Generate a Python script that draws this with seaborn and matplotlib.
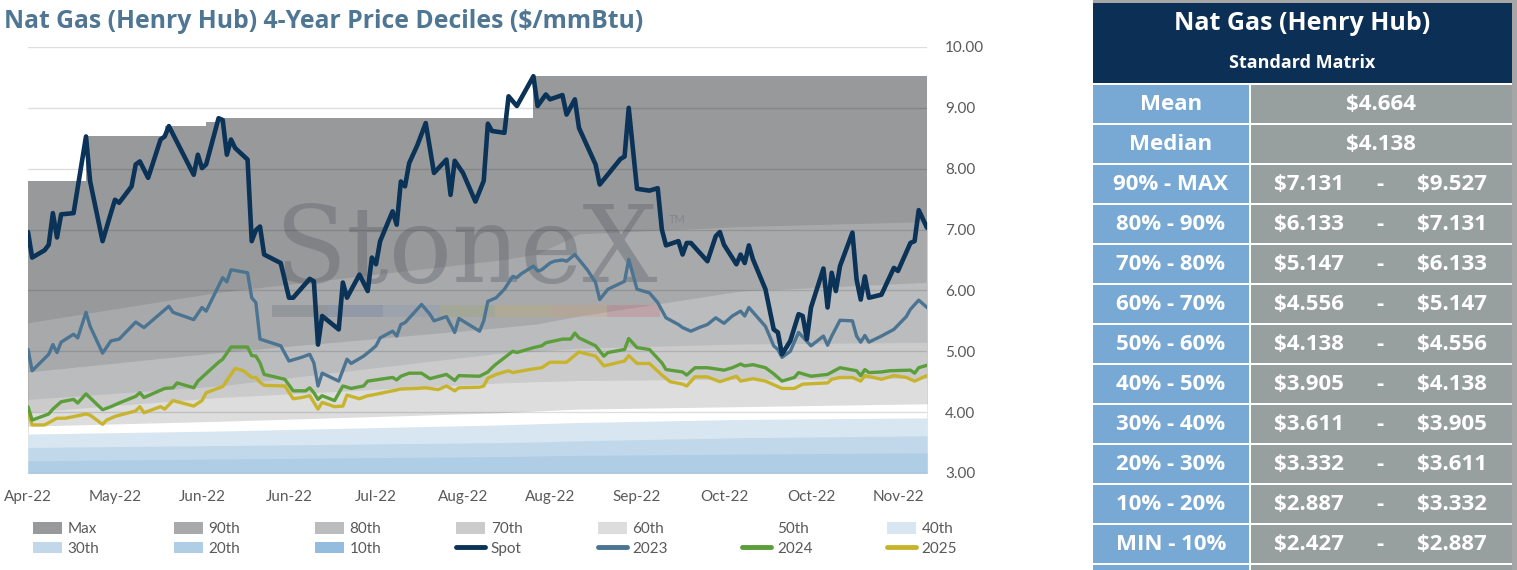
import matplotlib
matplotlib.use("Agg")
import matplotlib.pyplot as plt
from matplotlib.patches import Rectangle, Patch
from matplotlib.lines import Line2D
import seaborn as sns

# ---- x axis: calendar days from the first point, label every 21 days
tick_days = [0, 21, 42, 63, 84, 105, 126, 147, 168, 189, 210]
tick_labels = ["Apr-22", "May-22", "Jun-22", "Jun-22", "Jul-22", "Aug-22",
               "Aug-22", "Sep-22", "Oct-22", "Oct-22", "Nov-22"]
last_day = 217

# ---- decile bands
band_days = [0, 46, 114, 123, 133, 172, 217]
p90 = [5.47, 5.97, 6.50, 6.60, 6.93, 7.05, 7.131]
p80 = [4.66, 4.98, 5.39, 5.45, 5.58, 5.99, 6.133]
p70 = [4.21, 4.43, 4.97, 5.00, 5.05, 5.12, 5.147]
p60 = [4.00, 4.24, 4.48, 4.50, 4.52, 4.54, 4.556]
p50 = [3.77, 3.85, 3.99, 4.02, 4.05, 4.09, 4.138]
p40 = [3.64, 3.69, 3.79, 3.81, 3.83, 3.88, 3.905]
p30 = [3.42, 3.45, 3.50, 3.51, 3.53, 3.58, 3.611]
p20 = [3.20, 3.23, 3.27, 3.28, 3.29, 3.31, 3.332]
p10 = [2.78, 2.80, 2.83, 2.84, 2.85, 2.87, 2.887]

max_days = [0, 14, 33, 43, 46, 122, 217]
max_vals = [7.79, 8.53, 8.70, 8.76, 8.83, 9.527, 9.527]

# ---- price lines
spot_days = [0, 1, 4, 5, 6, 7, 8, 11, 14, 15, 18, 20, 21, 22, 25, 26, 27, 29, 32, 33,
             34, 40, 41, 42, 43, 46, 47, 48, 49, 50, 53, 54, 55, 56, 57, 61, 63, 64, 68, 69,
             70, 71, 75, 76, 77, 80, 82, 83, 84, 85, 88, 89, 90, 91, 92, 94, 96, 98, 101, 102,
             103, 105, 108, 110, 111, 112, 115, 116, 118, 122, 123, 125, 126, 129, 130, 132, 133, 137, 138, 143,
             144, 145, 147, 150, 152, 153, 154, 157, 158, 159, 160, 164, 166, 167, 168, 171, 172, 173, 174, 175,
             178, 180, 181, 182, 184, 186, 187, 188, 189, 192, 193, 194, 195, 196, 199, 200, 201, 202, 203, 206,
             209, 210, 213, 214, 215, 217]
spot_vals = [6.96, 6.54, 6.66, 6.75, 7.27, 6.87, 7.25, 7.27, 8.53, 7.79, 6.81, 7.27, 7.49, 7.44, 7.71, 8.07, 8.12, 7.85, 8.48, 8.53,
             8.70, 7.90, 8.23, 8.01, 8.07, 8.83, 8.80, 8.23, 8.48, 8.34, 8.15, 6.81, 6.99, 7.05, 6.59, 6.45, 5.88, 5.88, 6.19, 6.15,
             5.11, 5.58, 5.36, 6.13, 5.88, 6.26, 5.99, 6.54, 6.43, 6.81, 7.30, 7.08, 7.79, 7.71, 8.09, 8.39, 8.75, 7.93, 8.15, 7.57,
             8.13, 7.93, 7.46, 7.80, 8.74, 8.62, 8.59, 9.19, 9.03, 9.52, 9.03, 9.22, 9.14, 9.21, 8.89, 9.14, 8.67, 8.07, 7.74, 8.16,
             8.20, 9.00, 7.67, 7.64, 7.68, 7.00, 6.74, 6.81, 6.59, 6.78, 6.78, 6.48, 6.89, 6.96, 6.75, 6.43, 6.59, 6.45, 6.74, 6.51,
             6.02, 5.36, 5.31, 4.95, 5.17, 5.61, 5.58, 5.20, 5.72, 6.36, 5.72, 6.29, 5.99, 6.40, 6.95, 6.18, 5.85, 6.23, 5.88, 5.93,
             6.37, 6.32, 6.78, 6.81, 7.32, 7.03]

y2023_days = [0, 1, 5, 6, 7, 8, 11, 12, 14, 15, 18, 20, 22, 26, 28, 34, 35, 40, 42, 43,
              47, 48, 49, 53, 54, 55, 56, 61, 63, 66, 68, 69, 70, 71, 75, 77, 78, 81, 83, 84,
              85, 88, 89, 90, 91, 95, 97, 98, 101, 103, 104, 109, 110, 111, 113, 115, 117, 118, 119, 122,
              123, 124, 126, 127, 129, 130, 132, 135, 137, 138, 140, 144, 145, 147, 150, 152, 154, 157, 158, 160,
              162, 164, 166, 168, 170, 172, 173, 174, 178, 180, 181, 182, 184, 186, 189, 192, 193, 194, 196, 199,
              200, 201, 202, 203, 206, 209, 212, 213, 215, 217]
y2023_vals = [5.03, 4.68, 4.95, 5.11, 4.98, 5.15, 5.28, 5.22, 5.64, 5.41, 4.97, 5.17, 5.20, 5.48, 5.39, 5.74, 5.64, 5.52, 5.72, 5.66,
              6.21, 6.14, 6.34, 6.29, 5.88, 5.80, 5.20, 5.09, 4.84, 4.90, 4.95, 4.81, 4.43, 4.64, 4.51, 4.87, 4.80, 4.92, 5.03, 5.09,
              5.22, 5.33, 5.25, 5.44, 5.47, 5.77, 5.61, 5.50, 5.57, 5.31, 5.54, 5.33, 5.50, 5.82, 5.88, 6.02, 6.23, 6.21, 6.27, 6.40,
              6.32, 6.34, 6.45, 6.48, 6.50, 6.48, 6.59, 6.34, 6.13, 5.85, 6.02, 6.15, 6.51, 6.02, 5.96, 5.80, 5.55, 5.44, 5.39, 5.33,
              5.39, 5.44, 5.55, 5.46, 5.58, 5.66, 5.58, 5.72, 5.41, 5.09, 5.03, 4.90, 5.00, 5.31, 5.09, 5.25, 5.10, 5.25, 5.51, 5.50,
              5.25, 5.15, 5.26, 5.15, 5.25, 5.36, 5.57, 5.69, 5.84, 5.72]

y2024_days = [0, 1, 5, 6, 8, 11, 12, 14, 18, 20, 22, 26, 27, 28, 33, 35, 36, 40, 41, 46,
              47, 49, 53, 54, 55, 56, 57, 62, 64, 67, 68, 69, 70, 71, 74, 76, 78, 81, 82, 85,
              88, 89, 90, 92, 95, 97, 101, 103, 104, 109, 111, 112, 113, 117, 118, 122, 124, 125, 129, 131,
              132, 133, 137, 139, 140, 144, 145, 147, 150, 153, 154, 158, 159, 161, 164, 168, 170, 172, 173, 175,
              178, 180, 182, 185, 186, 189, 193, 196, 200, 201, 202, 203, 206, 208, 213, 214, 215, 217]
y2024_vals = [4.09, 3.87, 3.97, 4.05, 4.17, 4.21, 4.15, 4.30, 4.04, 4.09, 4.15, 4.26, 4.32, 4.24, 4.39, 4.40, 4.48, 4.40, 4.51, 4.82,
              4.87, 5.07, 5.07, 4.93, 4.92, 4.81, 4.62, 4.54, 4.35, 4.35, 4.40, 4.32, 4.21, 4.27, 4.19, 4.43, 4.39, 4.43, 4.51, 4.54,
              4.57, 4.53, 4.59, 4.64, 4.64, 4.55, 4.62, 4.52, 4.60, 4.59, 4.66, 4.73, 4.79, 5.00, 4.98, 5.06, 5.09, 5.14, 5.20, 5.20,
              5.30, 5.22, 5.09, 4.92, 4.98, 5.03, 5.21, 5.06, 5.03, 4.81, 4.70, 4.66, 4.61, 4.73, 4.73, 4.69, 4.73, 4.79, 4.76, 4.78,
              4.73, 4.63, 4.51, 4.57, 4.65, 4.59, 4.62, 4.73, 4.68, 4.60, 4.70, 4.65, 4.66, 4.68, 4.69, 4.64, 4.73, 4.77]

y2025_days = [0, 1, 4, 7, 9, 12, 14, 15, 18, 19, 21, 26, 27, 28, 32, 33, 35, 40, 42, 43,
              47, 50, 52, 54, 55, 56, 57, 62, 64, 66, 68, 69, 70, 71, 74, 76, 77, 80, 82, 83,
              88, 90, 94, 96, 99, 101, 103, 104, 109, 110, 111, 113, 116, 117, 121, 124, 126, 130, 133, 137,
              139, 144, 145, 147, 150, 153, 155, 158, 159, 161, 164, 167, 171, 172, 175, 178, 180, 182, 185, 187,
              193, 194, 196, 199, 201, 202, 206, 209, 212, 214, 217]
y2025_vals = [3.99, 3.79, 3.79, 3.90, 3.90, 3.94, 3.97, 3.95, 3.80, 3.87, 3.93, 4.02, 4.09, 3.99, 4.09, 4.05, 4.19, 4.10, 4.19, 4.32,
              4.42, 4.72, 4.68, 4.57, 4.57, 4.49, 4.44, 4.43, 4.22, 4.24, 4.27, 4.16, 4.05, 4.16, 4.09, 4.10, 4.28, 4.22, 4.27, 4.28,
              4.35, 4.38, 4.39, 4.40, 4.37, 4.43, 4.35, 4.40, 4.41, 4.43, 4.56, 4.62, 4.68, 4.65, 4.70, 4.73, 4.82, 4.82, 4.99, 4.92,
              4.76, 4.84, 4.93, 4.80, 4.80, 4.61, 4.50, 4.46, 4.43, 4.58, 4.58, 4.50, 4.59, 4.51, 4.55, 4.51, 4.45, 4.39, 4.39, 4.46,
              4.48, 4.54, 4.57, 4.57, 4.51, 4.60, 4.54, 4.60, 4.57, 4.51, 4.60]

# ---- standard matrix table
stat_labels = ["Mean", "Median"]
stat_vals = [4.664, 4.138]
range_labels = ["90% - MAX", "80% - 90%", "70% - 80%", "60% - 70%", "50% - 60%",
                "40% - 50%", "30% - 40%", "20% - 30%", "10% - 20%", "MIN - 10%"]
range_low = [7.131, 6.133, 5.147, 4.556, 4.138, 3.905, 3.611, 3.332, 2.887, 2.427]
range_high = [9.527, 7.131, 6.133, 5.147, 4.556, 4.138, 3.905, 3.611, 3.332, 2.887]

band_colors = {"Max": "#98999b", "90th": "#a8a9ab", "80th": "#bbbcbe", "70th": "#cbcbcc",
               "60th": "#dddddd", "50th": "#ffffff", "40th": "#d8e6f2", "30th": "#c0d8ea",
               "20th": "#afcde5", "10th": "#94bcdf"}
line_colors = {"Spot": "#0b3358", "2023": "#4a7491", "2024": "#5b9e3a", "2025": "#c8b42c"}

sns.set_theme(style="white")
plt.rcParams["font.family"] = ["Lato", "DejaVu Sans"]
head_font = ["Open Sans", "DejaVu Sans"]

W, H = 1517, 570
fig = plt.figure(figsize=(W / 100, H / 100), dpi=100)
ax = fig.add_axes([28 / W, 1 - 473 / H, 899 / W, 426 / H])

# stacked decile areas, each filled from the bottom up to its level
ax.fill_between(max_days, 0, max_vals, step="post", color=band_colors["Max"], lw=0, zorder=1)
bands = [("90th", p90), ("80th", p80), ("70th", p70), ("60th", p60), ("50th", p50),
         ("40th", p40), ("30th", p30), ("20th", p20), ("10th", p10)]
for name, vals in bands:
    ax.fill_between(band_days, 0, vals, color=band_colors[name], lw=0, zorder=1)

# watermark
ax.text(0.487, (473 - 282) / 426, "StoneX", transform=ax.transAxes, ha="center", va="baseline",
        fontsize=76, family="DejaVu Serif", color="#5f646b", alpha=0.42, zorder=1.5)
ax.text(0.722, (473 - 219) / 426, "TM", transform=ax.transAxes, ha="center", va="center",
        fontsize=8, color="#6d7278", alpha=0.5, zorder=1.5)
bar_edges = [272, 328, 383, 440, 495, 552, 607, 660]
bar_cols = ["#5d6673", "#56719a", "#8197b3", "#93a56a", "#c4b067", "#d59b6c", "#c8656f"]
for k, c in enumerate(bar_cols):
    x0 = (bar_edges[k] - 28) / 899
    x1 = (bar_edges[k + 1] - 28) / 899
    ax.add_patch(Rectangle((x0, (473 - 317) / 426), x1 - x0, 12 / 426, transform=ax.transAxes,
                           color=c, alpha=0.28, lw=0, zorder=1.5))

sns.lineplot(x=y2025_days, y=y2025_vals, ax=ax, color=line_colors["2025"], lw=2.4, zorder=3)
sns.lineplot(x=y2024_days, y=y2024_vals, ax=ax, color=line_colors["2024"], lw=2.4, zorder=3)
sns.lineplot(x=y2023_days, y=y2023_vals, ax=ax, color=line_colors["2023"], lw=2.4, zorder=3)
sns.lineplot(x=spot_days, y=spot_vals, ax=ax, color=line_colors["Spot"], lw=3.3, zorder=3)

ax.set_xlim(0, last_day)
ax.set_ylim(3, 10)
ax.set_axisbelow(False)
ax.grid(axis="y", color="black", alpha=0.13, lw=1)
ax.grid(axis="x", visible=False)
ax.set_facecolor("white")
for s in ax.spines.values():
    s.set_visible(False)
ax.yaxis.tick_right()
ax.set_yticks(range(3, 11))
ax.set_yticklabels([f"{v:.2f}" for v in range(3, 11)])
ax.set_xticks(tick_days)
ax.set_xticklabels(tick_labels)
ax.tick_params(axis="y", length=0, pad=13, labelsize=11, labelcolor="#595959")
ax.tick_params(axis="x", length=0, pad=12.5, labelsize=11, labelcolor="#595959")
ax.set_xlabel("")
ax.set_ylabel("")

fig.text(4 / W, 1 - 22 / H, "Nat Gas (Henry Hub) 4-Year Price Deciles ($/mmBtu)",
         ha="left", va="center", fontsize=17.8, fontweight="bold", color="#4f7793",
         family=head_font)

# legend, row-major order rearranged for matplotlib's column filling
row1 = ["Max", "90th", "80th", "70th", "60th", "50th", "40th"]
row2 = ["30th", "20th", "10th", "Spot", "2023", "2024", "2025"]


def handle(name):
    if name in line_colors:
        return Line2D([], [], color=line_colors[name], lw=3.5, solid_capstyle="round")
    return Patch(facecolor=band_colors[name], edgecolor="none")


handles, labels = [], []
for a, b in zip(row1, row2):
    handles += [handle(a), handle(b)]
    labels += [a, b]
fig.legend(handles, labels, ncol=7, loc="upper left", bbox_to_anchor=(33 / W, 1 - 522 / H),
           frameon=False, fontsize=11, labelcolor="#595959", handlelength=1.9,
           handleheight=0.8, handletextpad=0.35, columnspacing=4.91, labelspacing=0.35,
           borderpad=0, borderaxespad=0)

# standard matrix table drawn in pixel coordinates
tab = fig.add_axes([0, 0, 1, 1])
tab.set_xlim(0, W)
tab.set_ylim(H, 0)
tab.axis("off")
navy, blue, grey = "#0c2f55", "#78a9d4", "#98a09f"
tab.add_patch(Rectangle((1093, 0), 424, 3, color="#a6a6a6", lw=0))
tab.add_patch(Rectangle((1512, 0), 5, H, color="#a6a6a6", lw=0))
tab.add_patch(Rectangle((1093, 3), 419, 80, color=navy, lw=0))
tab.text(1302, 23, "Nat Gas (Henry Hub)", ha="center", va="center", color="white",
         fontsize=18, fontweight="bold", family=head_font)
tab.text(1302, 63, "Standard Matrix", ha="center", va="center", color="white",
         fontsize=13, fontweight="bold", family=head_font)
n_rows = len(stat_labels) + len(range_labels)
for r in range(n_rows + 1):
    top = 85 + 40 * r
    tab.add_patch(Rectangle((1093, top), 156, 38, color=blue, lw=0))
    tab.add_patch(Rectangle((1251, top), 261, 38, color=grey, lw=0))
txt = dict(ha="center", va="center", color="white", fontsize=16, fontweight="bold",
           family=head_font)
for r, (lab, val) in enumerate(zip(stat_labels, stat_vals)):
    yc = 104 + 40 * r
    tab.text(1171, yc, lab, **txt)
    tab.text(1381, yc, f"${val:.3f}", **txt)
for r, (lab, lo, hi) in enumerate(zip(range_labels, range_low, range_high)):
    yc = 104 + 40 * (r + 2)
    tab.text(1171, yc, lab, **txt)
    tab.text(1309, yc, f"${lo:.3f}", **txt)
    tab.text(1380, yc, "-", **txt)
    tab.text(1452, yc, f"${hi:.3f}", **txt)

fig.savefig("out.png", dpi=100, facecolor="white")
